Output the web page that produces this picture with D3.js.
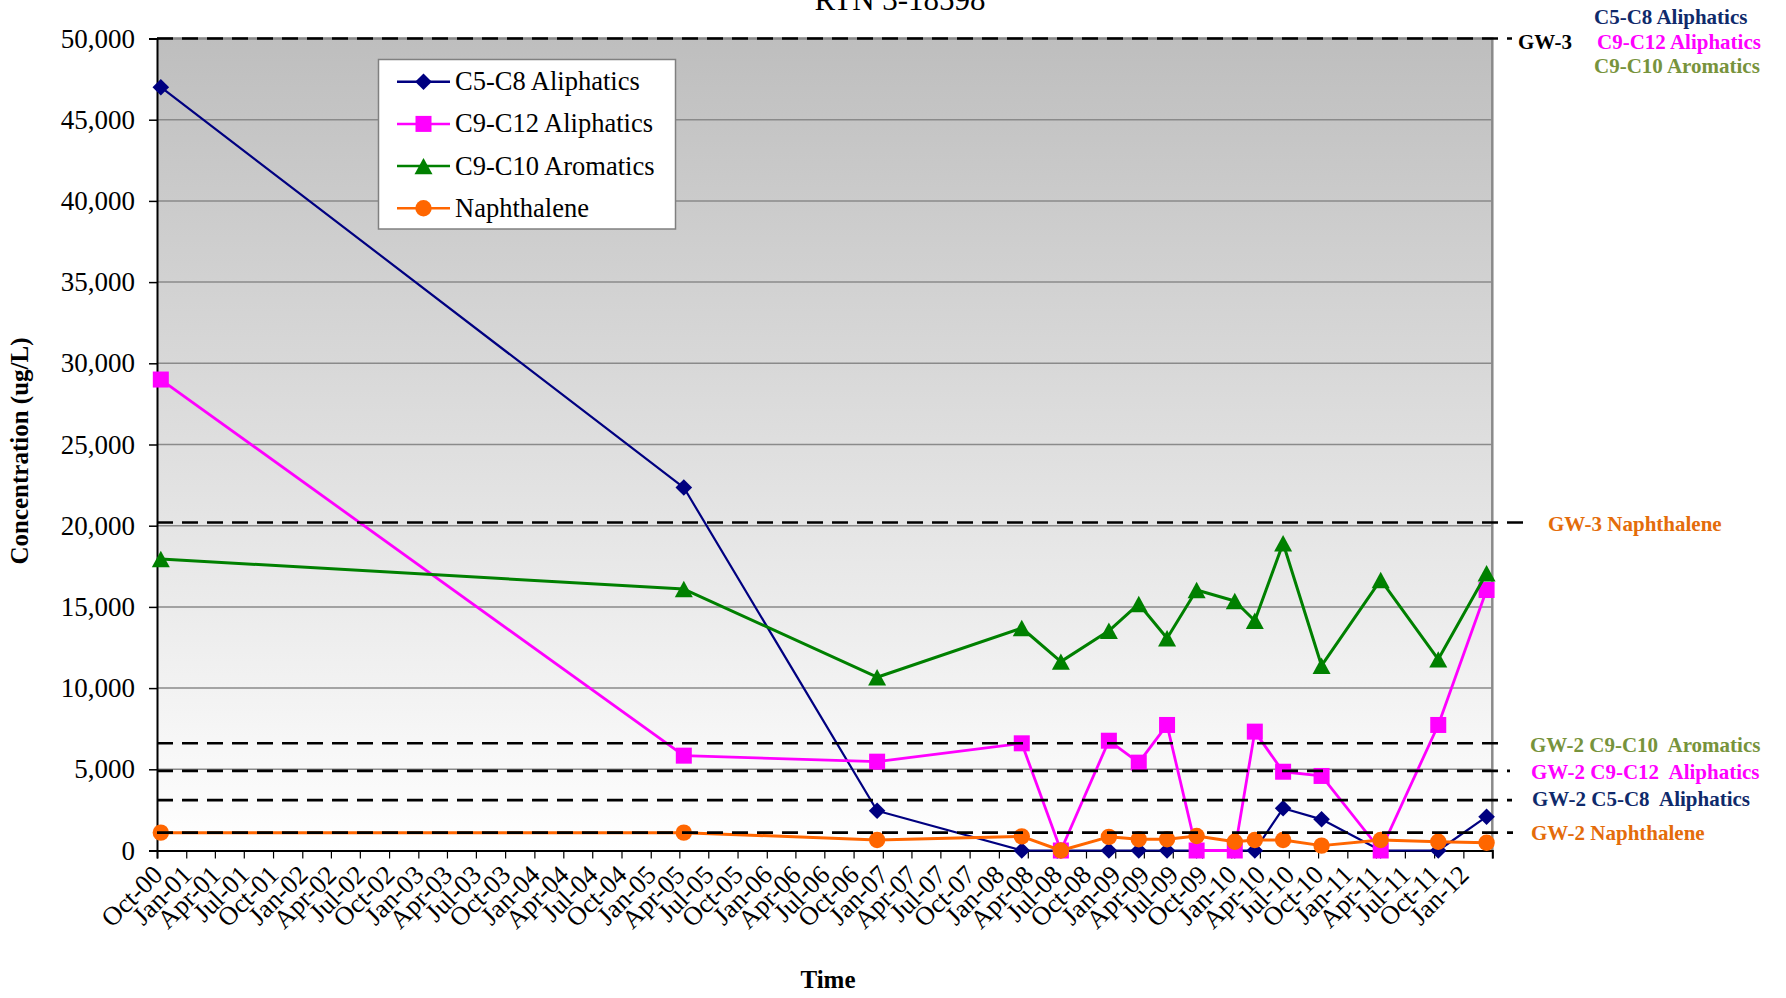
<!DOCTYPE html>
<html>
<head>
<meta charset="utf-8">
<script src="https://cdn.jsdelivr.net/npm/d3@7"></script>
<style>
  html, body { margin: 0; padding: 0; background: #ffffff; }
  svg { display: block; }
  text { font-family: "Times New Roman", "Liberation Serif", serif; }
</style>
</head>
<body>
<svg id="chart" width="1786" height="998"></svg>
<script>
// ---- data -------------------------------------------------------------
const sampleDates = [
  "2000-10-13", "2005-04-15", "2006-12-14", "2008-03-13", "2008-07-14",
  "2008-12-12", "2009-03-16", "2009-06-13", "2009-09-14", "2010-01-12",
  "2010-03-16", "2010-06-13", "2010-10-12", "2011-04-16", "2011-10-14",
  "2012-03-14"
];
const c5c8Aliphatics  = [47000, 22350, 2450, 0, 0, 0, 0, 0, 0, 0, 0, 2600, 1920, 0, 0, 2080];
const c9c12Aliphatics = [29000, 5840, 5470, 6600, 0, 6760, 5410, 7730, 0, 0, 7320, 4850, 4590, 0, 7730, 16040];
const c9c10Aromatics  = [17950, 16100, 10670, 13700, 11630, 13530, 15180, 13070, 16040, 15360, 14150, 18920, 11380, 16660, 11770, 17070];
const naphthalene     = [1100, 1100, 650, 870, 0, 840, 690, 690, 890, 540, 650, 650, 300, 650, 540, 480];

const seriesNames = ["C5-C8 Aliphatics", "C9-C12 Aliphatics", "C9-C10 Aromatics", "Naphthalene"];

// quarterly axis labels (last tick at Apr-12 carries no label)
const xTickLabels = [
  "Oct-00","Jan-01","Apr-01","Jul-01","Oct-01","Jan-02","Apr-02","Jul-02","Oct-02",
  "Jan-03","Apr-03","Jul-03","Oct-03","Jan-04","Apr-04","Jul-04","Oct-04",
  "Jan-05","Apr-05","Jul-05","Oct-05","Jan-06","Apr-06","Jul-06","Oct-06",
  "Jan-07","Apr-07","Jul-07","Oct-07","Jan-08","Apr-08","Jul-08","Oct-08",
  "Jan-09","Apr-09","Jul-09","Oct-09","Jan-10","Apr-10","Jul-10","Oct-10",
  "Jan-11","Apr-11","Jul-11","Oct-11","Jan-12"
];
const yTickValues = [0, 5000, 10000, 15000, 20000, 25000, 30000, 35000, 40000, 45000, 50000];

// cleanup standards drawn as dashed lines
const standardValues = [50000, 20200, 6600, 4900, 3100, 1100];
const standardLabels = ["GW-3", "GW-3 Naphthalene", "GW-2 C9-C10  Aromatics",
                        "GW-2 C9-C12  Aliphatics", "GW-2 C5-C8  Aliphatics", "GW-2 Naphthalene"];
const headerLabels = ["C5-C8 Aliphatics", "C9-C12 Aliphatics", "C9-C10 Aromatics"];

// ---- layout & style ---------------------------------------------------
const plot = { left: 157, right: 1492.3, top: 38.5, bottom: 850.5 };
const seriesColors = ["#000080", "#FF00FF", "#008000", "#FF6600"];
const seriesWidths = [2.2, 2.8, 3, 3];
const markerKinds = ["diamond", "square", "triangle", "circle"];

const standardStyle = [
  { color: "#000000", x2: 1512, lx: 1518, ly: 49 },
  { color: "#E46C0A", x2: 1523, lx: 1548, ly: 530.5 },
  { color: "#77933C", x2: 1505, lx: 1530, ly: 751.5 },
  { color: "#FF00FF", x2: 1510, lx: 1531, ly: 779 },
  { color: "#0F2A6B", x2: 1512, lx: 1532, ly: 806 },
  { color: "#E46C0A", x2: 1513, lx: 1531, ly: 840 }
];
const headerStyle = [
  { color: "#0F2A6B", x: 1594, y: 24 },
  { color: "#FF00FF", x: 1597, y: 48.5 },
  { color: "#77933C", x: 1594, y: 72.5 }
];

const parse = d3.timeParse("%Y-%m-%d");
const dates = sampleDates.map(parse);

const x = d3.scaleTime()
  .domain([new Date(2000, 9, 1), new Date(2012, 3, 1)])
  .range([plot.left, plot.right]);
const y = d3.scaleLinear()
  .domain([0, 50000])
  .range([plot.bottom, plot.top]);

const svg = d3.select("#chart");

// plot background gradient
const defs = svg.append("defs");
const grad = defs.append("linearGradient")
  .attr("id", "plotFill").attr("x1", 0).attr("y1", 0).attr("x2", 0).attr("y2", 1);
grad.append("stop").attr("offset", "0%").attr("stop-color", "#BEBEBE");
grad.append("stop").attr("offset", "100%").attr("stop-color", "#FFFFFF");

svg.append("rect")
  .attr("x", plot.left).attr("y", plot.top)
  .attr("width", plot.right - plot.left).attr("height", plot.bottom - plot.top)
  .attr("fill", "url(#plotFill)");

// horizontal gridlines
svg.append("g").selectAll("line")
  .data(yTickValues.filter(v => v > 0))
  .join("line")
  .attr("x1", plot.left).attr("x2", plot.right)
  .attr("y1", d => y(d)).attr("y2", d => y(d))
  .attr("stroke", "#8A8A8A").attr("stroke-width", 1.5);

// right / top border
svg.append("path")
  .attr("d", `M${plot.left},${plot.top}H${plot.right}V${plot.bottom}`)
  .attr("fill", "none").attr("stroke", "#8A8A8A").attr("stroke-width", 2.5);

// y axis
const yAxis = d3.axisLeft(y).tickValues(yTickValues).tickSize(8).tickPadding(14)
  .tickFormat(d3.format(","));
const gy = svg.append("g").attr("transform", `translate(${plot.left},0)`).call(yAxis);
gy.select(".domain").attr("stroke", "#000").attr("stroke-width", 2);
gy.selectAll(".tick line").attr("stroke", "#000").attr("stroke-width", 1.5);
gy.selectAll(".tick text")
  .attr("font-family", "'Times New Roman', 'Liberation Serif', serif")
  .attr("font-size", 27).attr("fill", "#000");

// x axis
const tickDates = d3.timeMonth.every(3).range(new Date(2000, 9, 1), new Date(2012, 3, 2));
const xAxis = d3.axisBottom(x).tickValues(tickDates).tickSize(8).tickFormat("");
const gx = svg.append("g").attr("transform", `translate(0,${plot.bottom})`).call(xAxis);
gx.select(".domain").attr("stroke", "#000").attr("stroke-width", 2);
gx.selectAll(".tick line").attr("stroke", "#000").attr("stroke-width", 1.2);

svg.append("g").selectAll("text")
  .data(xTickLabels)
  .join("text")
  .attr("transform", (d, i) => `translate(${x(tickDates[i]) + 7},${plot.bottom + 26}) rotate(-45)`)
  .attr("text-anchor", "end")
  .attr("font-size", 26.5)
  .attr("fill", "#000")
  .text(d => d);

// axis titles
svg.append("text")
  .attr("transform", `translate(28,451) rotate(-90)`)
  .attr("text-anchor", "middle")
  .attr("font-size", 25).attr("font-weight", "bold")
  .text("Concentration (ug/L)");
svg.append("text")
  .attr("x", 828).attr("y", 988)
  .attr("text-anchor", "middle")
  .attr("font-size", 25).attr("font-weight", "bold")
  .text("Time");

// chart title (runs off the top edge)
svg.append("text")
  .attr("x", 900).attr("y", 9.5)
  .attr("text-anchor", "middle")
  .attr("font-size", 31)
  .text("RTN 3-18598");

// ---- markers ----------------------------------------------------------
function drawMarker(g, kind, cx, cy, color) {
  if (kind === "diamond") {
    const r = 8.3;
    g.append("path").attr("d", `M${cx},${cy - r}L${cx + r},${cy}L${cx},${cy + r}L${cx - r},${cy}Z`).attr("fill", color);
  } else if (kind === "square") {
    const h = 8;
    g.append("rect").attr("x", cx - h).attr("y", cy - h).attr("width", 2 * h).attr("height", 2 * h).attr("fill", color);
  } else if (kind === "triangle") {
    const w = 9, h = 8.2;
    g.append("path").attr("d", `M${cx},${cy - h}L${cx + w},${cy + h}L${cx - w},${cy + h}Z`).attr("fill", color);
  } else {
    g.append("circle").attr("cx", cx).attr("cy", cy).attr("r", 8.2).attr("fill", color);
  }
}

// ---- series -----------------------------------------------------------
const allSeries = [c5c8Aliphatics, c9c12Aliphatics, c9c10Aromatics, naphthalene];
const line = d3.line().x(d => x(d.date)).y(d => y(d.value));

allSeries.forEach((vals, si) => {
  const pts = vals.map((v, i) => ({ date: dates[i], value: v }));
  const g = svg.append("g");
  g.append("path").datum(pts)
    .attr("d", line)
    .attr("fill", "none")
    .attr("stroke", seriesColors[si])
    .attr("stroke-width", seriesWidths[si])
    .attr("stroke-linejoin", "round");
  pts.forEach(p => drawMarker(g, markerKinds[si], x(p.date), y(p.value), seriesColors[si]));
});

// ---- standards (dashed) ----------------------------------------------
standardValues.forEach((v, i) => {
  const st = standardStyle[i];
  svg.append("line")
    .attr("x1", plot.left).attr("x2", st.x2)
    .attr("y1", y(v)).attr("y2", y(v))
    .attr("stroke", "#000").attr("stroke-width", 2.6)
    .attr("stroke-dasharray", "16,9");
  svg.append("text")
    .attr("x", st.lx).attr("y", st.ly)
    .attr("font-size", 21).attr("font-weight", "bold")
    .attr("fill", st.color)
    .attr("xml:space", "preserve")
    .style("white-space", "pre")
    .text(standardLabels[i]);
});

headerLabels.forEach((t, i) => {
  const st = headerStyle[i];
  svg.append("text")
    .attr("x", st.x).attr("y", st.y)
    .attr("font-size", 21).attr("font-weight", "bold")
    .attr("fill", st.color)
    .text(t);
});

// ---- legend -----------------------------------------------------------
const legend = svg.append("g");
legend.append("rect")
  .attr("x", 378.5).attr("y", 59.5).attr("width", 297).attr("height", 169.5)
  .attr("fill", "#FFFFFF").attr("stroke", "#808080").attr("stroke-width", 1.5);
seriesNames.forEach((name, i) => {
  const cy = 81.7 + i * 42.2;
  legend.append("line")
    .attr("x1", 397).attr("x2", 450).attr("y1", cy).attr("y2", cy)
    .attr("stroke", seriesColors[i]).attr("stroke-width", 2.5);
  drawMarker(legend, markerKinds[i], 423.5, cy, seriesColors[i]);
  legend.append("text")
    .attr("x", 455).attr("y", cy + 8.5)
    .attr("font-size", 26.5).attr("fill", "#000")
    .text(name);
});
</script>
</body>
</html>
